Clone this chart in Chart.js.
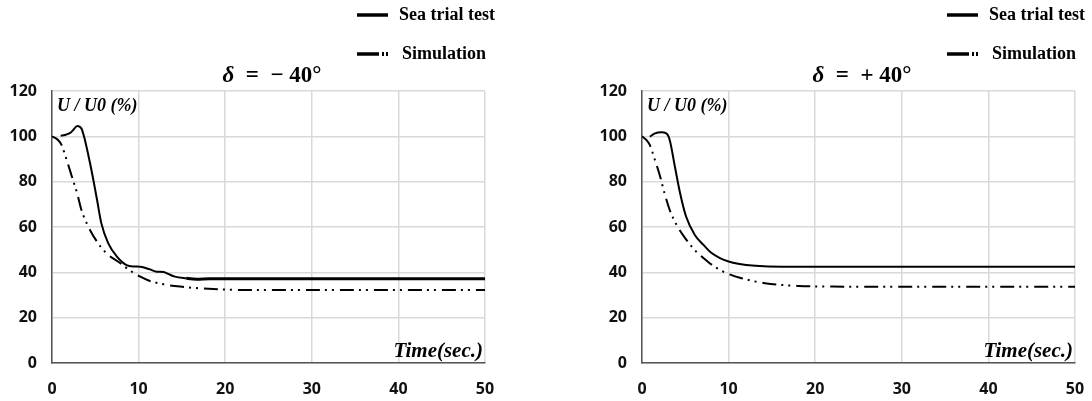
<!DOCTYPE html>
<html>
<head>
<meta charset="utf-8">
<script src="https://cdn.jsdelivr.net/npm/chart.js@4.4.1/dist/chart.umd.min.js"></script>
<style>
    body { margin: 0; background: #fff; }
    #wrap { position: relative; width: 1092px; height: 401px; }
    canvas { position: absolute; top: 0; }
    #chartNeg { left: 0; }
    #chartPos { left: 546px; }
</style>
</head>
<body>
<div id="wrap">
    <canvas id="chartNeg" width="546" height="401"></canvas>
    <canvas id="chartPos" width="546" height="401"></canvas>
</div>
<script>
// Axis ticks
const timeTicks = [0, 10, 20, 30, 40, 50];
const speedTicks = [0, 20, 40, 60, 80, 100, 120];

// delta = -40 deg, sea trial test
const negSeaTime = [1.0, 1.5, 2.1, 2.5, 2.9, 3.4, 3.8, 4.4, 4.8, 5.2, 5.7, 6.5, 7.5, 8.6, 9.5, 10.2, 11.3, 12.1, 12.9, 13.4, 14.2, 15.5, 16.7, 18.2, 25, 35, 50];
const negSeaSpeed = [100.3, 100.6, 101.5, 103, 104.6, 103.5, 98.4, 88, 80.3, 72, 61.6, 52.8, 46.9, 43.2, 42.6, 42.5, 41.3, 40.3, 40.1, 39.3, 38.1, 37.4, 37.0, 37.2, 37.2, 37.2, 37.2];

// delta = -40 deg, simulation
const negSimTime = [0, 0.7, 1.1, 1.7, 2.3, 2.9, 3.4, 4.2, 5.2, 6.3, 7.9, 9.0, 10.2, 11.3, 12.9, 14.8, 18.6, 22.5, 30, 40, 50];
const negSimSpeed = [100, 98.4, 96.2, 89.5, 82.2, 74.9, 67.5, 60.1, 53.5, 48.4, 44, 40.8, 38.1, 36.2, 34.7, 33.7, 32.6, 32.2, 32.2, 32.2, 32.2];

// delta = +40 deg, sea trial test
const posSeaTime = [0.9, 1.5, 2.25, 2.8, 3.2, 3.8, 4.4, 5.1, 6.1, 7.1, 8.0, 9.0, 10.0, 11.1, 13.1, 16.2, 20, 30, 40, 50];
const posSeaSpeed = [99.8, 101.3, 101.8, 101.3, 98.4, 86.6, 74.9, 64.5, 56.5, 52.1, 48.6, 46.3, 44.8, 43.8, 42.9, 42.5, 42.5, 42.5, 42.5, 42.5];

// delta = +40 deg, simulation
const posSimTime = [0, 0.5, 0.9, 1.5, 2.1, 2.6, 3.2, 4.0, 5.0, 6.1, 7.6, 8.5, 9.8, 11.5, 14.2, 18.1, 22, 30, 40, 50];
const posSimSpeed = [100, 98.4, 96.2, 89.5, 82.2, 74.9, 67.5, 60.9, 55, 49.8, 44.7, 42.2, 39.6, 37.4, 35.2, 34, 33.7, 33.6, 33.6, 33.6];

const seriesNames = ["Sea trial test", "Simulation"];

const SERIF = '"Liberation Serif", "Times New Roman", serif';
const simDash = [14, 5, 2, 5, 2, 6];

function toPoints(xs, ys) {
    return xs.map((x, i) => ({ x: x, y: ys[i] }));
}

// Draws title, legend and the axis captions inside the chart
function textPlugin(titleSign, offset) {
    return {
        id: "texts",
        afterDraw(chart) {
            const ctx = chart.ctx;
            const area = chart.chartArea;
            ctx.save();
            ctx.fillStyle = "#000";
            ctx.textBaseline = "middle";

            // Title: italic delta then the rest
            const partA = "δ";
            const partB = "  =  " + titleSign + " 40°";
            ctx.font = "italic bold 23px " + SERIF;
            const wA = ctx.measureText(partA).width;
            ctx.font = "bold 23px " + SERIF;
            const wB = ctx.measureText(partB).width;
            let tx = 272 + offset - (wA + wB) / 2;
            ctx.textAlign = "left";
            ctx.font = "italic bold 23px " + SERIF;
            ctx.fillText(partA, tx, 76);
            ctx.font = "bold 23px " + SERIF;
            ctx.fillText(partB, tx + wA, 76);

            // Legend
            const lx = 357 + offset;
            ctx.strokeStyle = "#000";
            ctx.lineWidth = 3.5;
            ctx.beginPath();
            ctx.moveTo(lx, 15);
            ctx.lineTo(lx + 31, 15);
            ctx.stroke();
            ctx.beginPath();
            ctx.moveTo(lx, 54);
            ctx.lineTo(lx + 22, 54);
            ctx.stroke();
            ctx.fillRect(lx + 25, 52, 2, 4);
            ctx.fillRect(lx + 29, 52, 2, 4);
            ctx.font = "bold 18px " + SERIF;
            ctx.fillText(seriesNames[0], lx + 42, 15);
            ctx.fillText(seriesNames[1], lx + 45, 54);

            // Axis captions
            ctx.font = "italic bold 18px " + SERIF;
            ctx.fillText("U / U0 (%)", area.left + 5, 106);
            ctx.font = "italic bold 21px " + SERIF;
            ctx.textAlign = "right";
            ctx.fillText("Time(sec.)", area.right - 2, 352);
            ctx.restore();
        }
    };
}

function fixAxis(size, horizontal) {
    return function (scale) {
        if (horizontal) scale.height = size;
        else scale.width = size;
        scale.paddingTop = 0;
        scale.paddingBottom = 0;
        scale.paddingLeft = 0;
        scale.paddingRight = 0;
    };
}

function makeChart(canvasId, seaX, seaY, simX, simY, sign, axisWidth, padRight, offset, thickTail) {
    const tickFont = { family: '"Open Sans", sans-serif', size: 16, weight: "bold" };
    return new Chart(document.getElementById(canvasId), {
        type: "line",
        data: {
            datasets: [{
                label: seriesNames[0],
                data: toPoints(seaX, seaY),
                borderColor: "#000",
                borderWidth: 2,
                pointRadius: 0,
                cubicInterpolationMode: "monotone",
                segment: {
                    borderWidth: c => (thickTail && c.p0.parsed.x >= 15 ? 3 : 2)
                }
            }, {
                label: seriesNames[1],
                data: toPoints(simX, simY),
                borderColor: "#000",
                borderWidth: 2,
                borderDash: simDash,
                pointRadius: 0,
                cubicInterpolationMode: "monotone"
            }]
        },
        options: {
            responsive: false,
            devicePixelRatio: 1,
            animation: false,
            layout: { padding: { left: 0, right: padRight, top: 91, bottom: 0 } },
            plugins: {
                legend: { display: false },
                title: { display: false },
                tooltip: { enabled: false }
            },
            scales: {
                x: {
                    type: "linear",
                    min: 0,
                    max: 50,
                    afterBuildTicks: s => { s.ticks = timeTicks.map(v => ({ value: v })); },
                    afterFit: fixAxis(38, true),
                    grid: { color: "#d9d9d9", lineWidth: 1.5, drawTicks: false },
                    border: { color: "#555", width: 1.5 },
                    ticks: { font: tickFont, color: "#111", padding: 17, maxRotation: 0 }
                },
                y: {
                    min: 0,
                    max: 120,
                    afterBuildTicks: s => { s.ticks = speedTicks.map(v => ({ value: v })); },
                    afterFit: fixAxis(axisWidth, false),
                    grid: { color: "#d9d9d9", lineWidth: 1.5, drawTicks: false },
                    border: { color: "#555", width: 1.5 },
                    ticks: { font: tickFont, color: "#111", padding: 15 }
                }
            }
        },
        plugins: [textPlugin(sign, offset)]
    });
}

makeChart("chartNeg", negSeaTime, negSeaSpeed, negSimTime, negSimSpeed, "−", 52, 61, 0, true);
makeChart("chartPos", posSeaTime, posSeaSpeed, posSimTime, posSimSpeed, "+", 96, 17, 44, false);
</script>
</body>
</html>
